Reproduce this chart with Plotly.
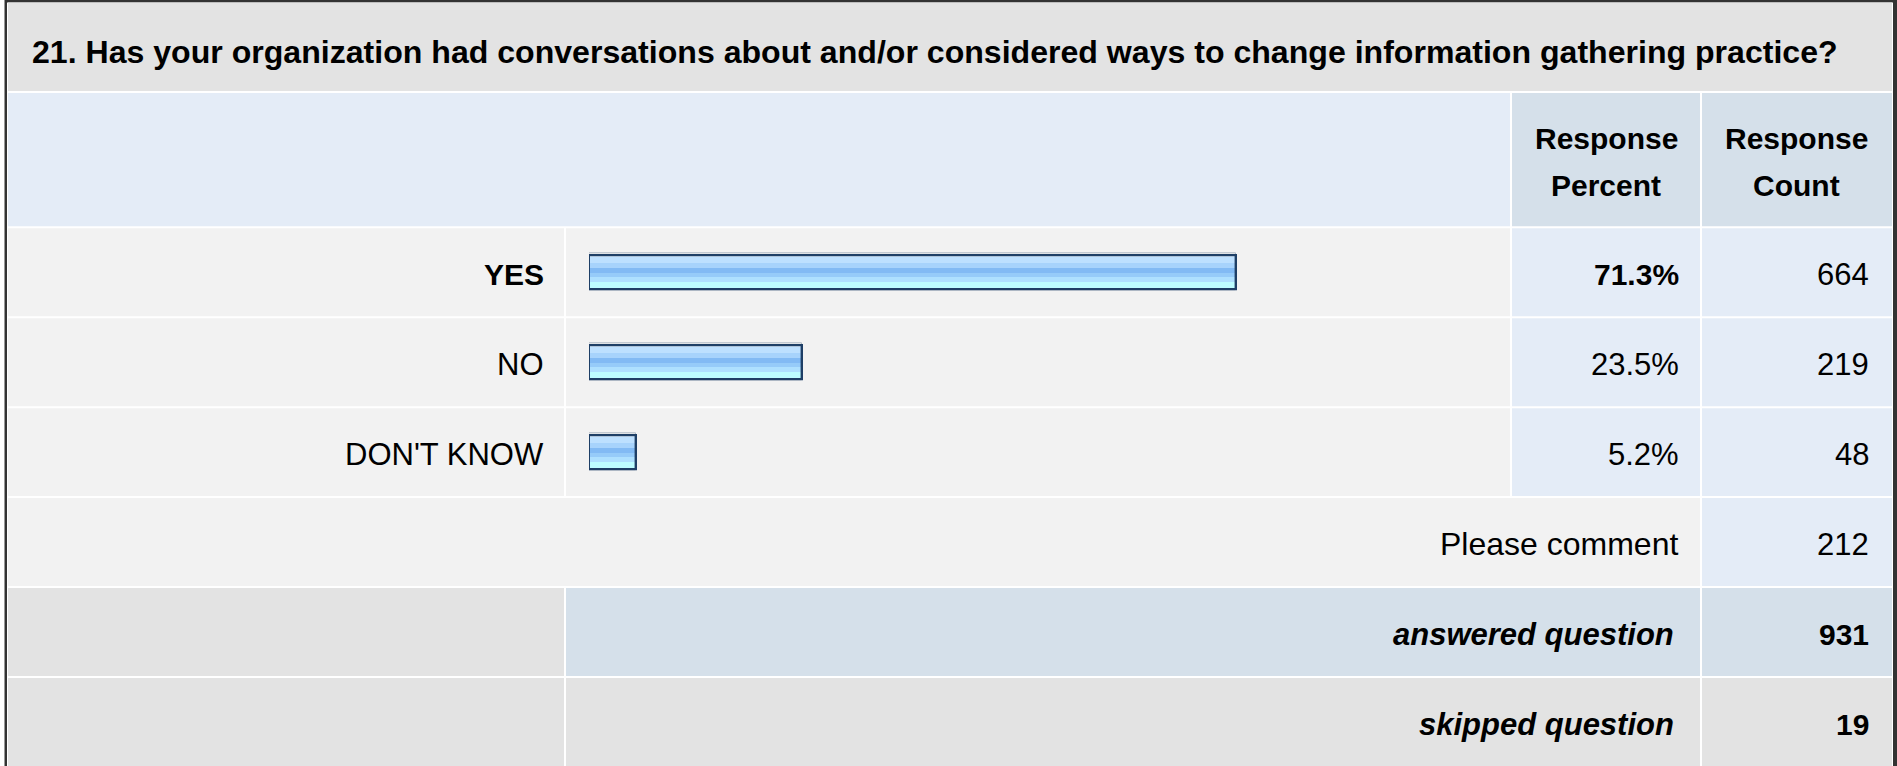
import plotly.graph_objects as go

# ---- survey data -------------------------------------------------------
question = ("21. Has your organization had conversations about and/or considered "
            "ways to change information gathering practice?")
choices = ["YES", "NO", "DON'T KNOW"]
percents = [71.3, 23.5, 5.2]
counts = [664, 219, 48]
comment_label = "Please comment"
comment_count = 212
answered_label = "answered question"
answered_count = 931
skipped_label = "skipped question"
skipped_count = 19
header_percent = ["Response", "Percent"]
header_count = ["Response", "Count"]

# ---- page geometry (pixels) -------------------------------------------
W, H = 1897, 766
FONT = "Liberation Sans, Arial, Helvetica, sans-serif"


def fx(px):
    return px / W


def fy(py):
    return 1 - py / H


# column separators and row separators (white grid lines)
COL_L, COL_A, COL_B, COL_C, COL_R = 8, 565, 1511, 1701, 1892
ROW_SEPS = [2.5, 92, 227.3, 317.3, 407.3, 497, 587, 677, 780]

GREY = "#e3e3e3"
LIGHT = "#f2f2f2"
BLUE = "#e4ecf7"
STEEL = "#d5e0ea"

shapes = []


def rect(x0, y0, x1, y1, color):
    shapes.append(dict(type="rect", xref="paper", yref="paper",
                       x0=fx(x0), x1=fx(x1), y0=fy(y1), y1=fy(y0),
                       fillcolor=color, line=dict(width=0), layer="below"))


# outer frame
rect(4.5, -5, W + 5, H + 20, "#333333")
rect(7, 2.5, 1893, H + 20, "#ffffff")


def row(i):
    return ROW_SEPS[i] + 1, ROW_SEPS[i + 1] - 1


# title row
t0, t1 = row(0)
rect(COL_L, 2.5, COL_R, t1, GREY)
# header row
h0, h1 = row(1)
rect(COL_L, h0, COL_B - 1, h1, BLUE)
rect(COL_B + 1, h0, COL_C - 1, h1, STEEL)
rect(COL_C + 1, h0, COL_R, h1, STEEL)
# answer rows
for k in range(len(choices)):
    r0, r1 = row(2 + k)
    rect(COL_L, r0, COL_A - 1, r1, LIGHT)
    rect(COL_A + 1, r0, COL_B - 1, r1, LIGHT)
    rect(COL_B + 1, r0, COL_C - 1, r1, BLUE)
    rect(COL_C + 1, r0, COL_R, r1, BLUE)
# comment row
c0, c1 = row(5)
rect(COL_L, c0, COL_C - 1, c1, LIGHT)
rect(COL_C + 1, c0, COL_R, c1, BLUE)
# answered row
a0, a1 = row(6)
rect(COL_L, a0, COL_A - 1, a1, GREY)
rect(COL_A + 1, a0, COL_C - 1, a1, STEEL)
rect(COL_C + 1, a0, COL_R, a1, STEEL)
# skipped row
s0, s1 = row(7)
rect(COL_L, s0, COL_A - 1, s1, GREY)
rect(COL_A + 1, s0, COL_C - 1, s1, GREY)
rect(COL_C + 1, s0, COL_R, s1, GREY)

# ---- bars: glossy gradient built from stacked horizontal stripes -------
ROW_PX = (ROW_SEPS[5] - ROW_SEPS[2]) / len(choices)
BAR_PX = 34.0
stripes = [  # (top px, bottom px, colour) measured from the bar's top edge
    (0.0, 2.5, "#dcefff"),
    (2.5, 8.0, "#bde0ff"),
    (8.0, 13.5, "#a7d3fc"),
    (13.5, 18.5, "#82baf4"),
    (18.5, 22.5, "#96cbf9"),
    (22.5, 27.5, "#aee0ff"),
    (27.5, 34.0, "#bcfdff"),
]

fig = go.Figure()

# faint halo around the bar outline
fig.add_trace(go.Bar(
    x=percents, y=choices, orientation="h",
    width=(BAR_PX + 3) / ROW_PX, offset=-(BAR_PX + 3) / 2 / ROW_PX,
    marker=dict(color="rgba(0,0,0,0)", line=dict(color="#aeb8c4", width=1)),
    hoverinfo="skip", showlegend=False))

for top, bot, col in stripes:
    fig.add_trace(go.Bar(
        x=percents, y=choices, orientation="h",
        width=(bot - top) / ROW_PX,
        offset=(top - BAR_PX / 2) / ROW_PX,
        marker=dict(color=col, line=dict(width=0)),
        hoverinfo="skip", showlegend=False))

# dark outline
fig.add_trace(go.Bar(
    x=percents, y=choices, orientation="h",
    width=BAR_PX / ROW_PX, offset=-BAR_PX / 2 / ROW_PX,
    marker=dict(color="rgba(0,0,0,0)", line=dict(color="#1e3f66", width=2.4)),
    hovertemplate="%{y}: %{x:.1f}%<extra></extra>", showlegend=False))

# ---- text --------------------------------------------------------------
annotations = []


def text(s, x, y, anchor="right", size=31):
    annotations.append(dict(text=s, xref="paper", yref="paper",
                            x=fx(x), y=fy(y), xanchor=anchor, yanchor="middle",
                            showarrow=False,
                            font=dict(family=FONT, size=size, color="#000000")))


text("<b>%s</b>" % question, 30, 52, anchor="left", size=32.1)

pc_mid = (COL_B + COL_C) / 2
cc_mid = (COL_C + COL_R) / 2
text("<b>%s</b>" % header_percent[0], pc_mid, 139, anchor="center", size=30)
text("<b>%s</b>" % header_percent[1], pc_mid, 185, anchor="center", size=30)
text("<b>%s</b>" % header_count[0], cc_mid, 139, anchor="center", size=30)
text("<b>%s</b>" % header_count[1], cc_mid, 185, anchor="center", size=30)

top_pct = max(percents)
for k, (lab, p, n) in enumerate(zip(choices, percents, counts)):
    r0, r1 = row(2 + k)
    yc = (r0 + r1) / 2 + 2
    lead = p == top_pct
    text("<b>%s</b>" % lab if lead else lab, 546, yc, size=30 if lead else 31)
    pct = "%.1f%%" % p
    text("<b>%s</b>" % pct if lead else pct, 1681, yc, size=30 if lead else 31)
    text(str(n), 1871, yc)

yc = (c0 + c1) / 2 + 2
text(comment_label, 1680, yc, size=32)
text(str(comment_count), 1871, yc)

yc = (a0 + a1) / 2 + 2
text("<b><i>%s</i></b>" % answered_label, 1676, yc, size=31)
text("<b>%d</b>" % answered_count, 1871, yc, size=30)

yc = (s0 + H) / 2 + 2
text("<b><i>%s</i></b>" % skipped_label, 1676, yc, size=31)
text("<b>%d</b>" % skipped_count, 1871, yc, size=30)

# ---- axes & layout -----------------------------------------------------
BAR_X0 = 589
PX_PER_PCT = 9.08

fig.update_layout(
    width=W, height=H,
    margin=dict(l=0, r=0, t=0, b=0),
    paper_bgcolor="#ffffff",
    plot_bgcolor="rgba(0,0,0,0)",
    barmode="overlay",
    bargap=0,
    shapes=shapes,
    annotations=annotations,
    xaxis=dict(domain=[fx(BAR_X0), fx(BAR_X0 + 100 * PX_PER_PCT)],
               range=[0, 100], visible=False, fixedrange=True),
    yaxis=dict(domain=[fy(ROW_SEPS[5]), fy(ROW_SEPS[2])],
               range=[len(choices) - 0.5, -0.5], type="category",
               categoryorder="array", categoryarray=choices,
               visible=False, fixedrange=True),
    font=dict(family=FONT),
)

fig.write_html("out.html", config={"displayModeBar": False})
